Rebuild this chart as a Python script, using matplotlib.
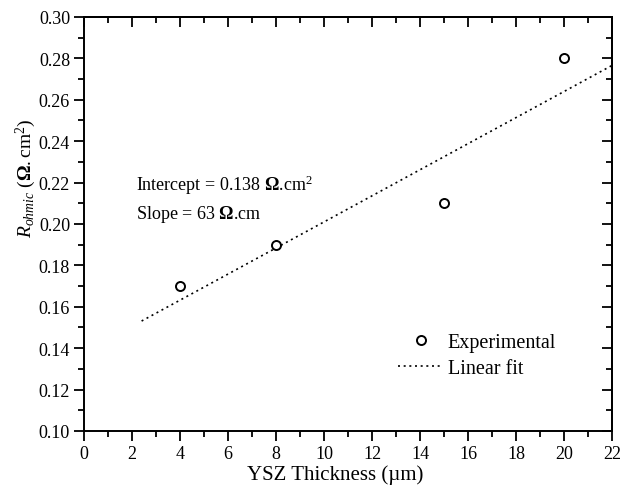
import numpy as np
import matplotlib
matplotlib.use("Agg")
import matplotlib.pyplot as plt
from matplotlib.ticker import MultipleLocator, FormatStrFormatter
from matplotlib.lines import Line2D

plt.rcParams["font.family"] = ["Liberation Serif", "DejaVu Serif"]
plt.rcParams["mathtext.fontset"] = "custom"
plt.rcParams["mathtext.rm"] = "Liberation Serif"
plt.rcParams["mathtext.it"] = "Liberation Serif:italic"
plt.rcParams["mathtext.bf"] = "Liberation Serif:bold"

# Measured ohmic resistance versus electrolyte thickness
thickness_um = [4, 8, 15, 20]
r_ohmic = [0.17, 0.19, 0.21, 0.28]

# Linear fit parameters
intercept = 0.138          # ohm.cm^2
slope_ohm_cm = 63          # ohm.cm
fit_x_range = [2.4, 22]    # um

fit_x = np.array(fit_x_range)
fit_y = intercept + slope_ohm_cm * fit_x * 1e-4

fig = plt.figure(figsize=(6.32, 4.89), dpi=100)
ax = fig.add_axes([0.1329, 0.1166, 0.8355, 0.8466])

dotted = (0, (1.2, 2.2))
ax.plot(fit_x, fit_y, linestyle=dotted, color="black", linewidth=1.2)
ax.plot(thickness_um, r_ohmic, linestyle="none", marker="o", markersize=6.5,
        markerfacecolor="white", markeredgecolor="black", markeredgewidth=1.4)

ax.set_xlim(0, 22)
ax.set_ylim(0.10, 0.30)
ax.xaxis.set_major_locator(MultipleLocator(2))
ax.xaxis.set_minor_locator(MultipleLocator(1))
ax.yaxis.set_major_locator(MultipleLocator(0.02))
ax.yaxis.set_minor_locator(MultipleLocator(0.01))
ax.yaxis.set_major_formatter(FormatStrFormatter("%.2f"))

for s in ax.spines.values():
    s.set_linewidth(1.4)
ax.tick_params(which="both", direction="out", width=1.3, labelsize=13, pad=3)
ax.tick_params(which="major", length=7)
ax.tick_params(which="minor", length=4)

# Inward ticks on the top and right edges
top = ax.secondary_xaxis("top")
top.xaxis.set_major_locator(MultipleLocator(2))
top.xaxis.set_minor_locator(MultipleLocator(1))
top.tick_params(which="both", direction="in", width=1.3, labeltop=False)
top.tick_params(which="major", length=7)
top.tick_params(which="minor", length=4)
right = ax.secondary_yaxis("right")
right.yaxis.set_major_locator(MultipleLocator(0.02))
right.yaxis.set_minor_locator(MultipleLocator(0.01))
right.tick_params(which="both", direction="in", width=1.3, labelright=False)
right.tick_params(which="major", length=7)
right.tick_params(which="minor", length=4)
for sec in (top, right):
    for s in sec.spines.values():
        s.set_linewidth(1.4)

ax.set_xlabel("YSZ Thickness (\u00b5m)", fontsize=15)
ax.xaxis.set_label_coords(0.475, -0.08)
ax.set_ylabel(r"$R_{ohmic}$ $(\mathbf{\Omega}.\mathrm{cm}^2)$", fontsize=14)
ax.yaxis.set_label_coords(-0.087, 0.614)

ax.text(2.17, 0.2164, r"Intercept = 0.138 $\mathbf{\Omega}$.cm$^2$", fontsize=13,
        va="baseline")
ax.text(2.17, 0.2029, r"Slope = 63 $\mathbf{\Omega}$.cm", fontsize=13, va="baseline")

handles = [
    Line2D([], [], linestyle="none", marker="o", markersize=6.5,
           markerfacecolor="white", markeredgecolor="black", markeredgewidth=1.4),
    Line2D([], [], linestyle=dotted, color="black", linewidth=1.2),
]
ax.legend(handles, ["Experimental", "Linear fit"], loc="upper left",
          bbox_to_anchor=(0.595, 0.237), frameon=False, fontsize=14.5,
          borderpad=0, borderaxespad=0,
          handlelength=2.25, handletextpad=0.2, labelspacing=0.35)

fig.savefig("out.png", dpi=100)
